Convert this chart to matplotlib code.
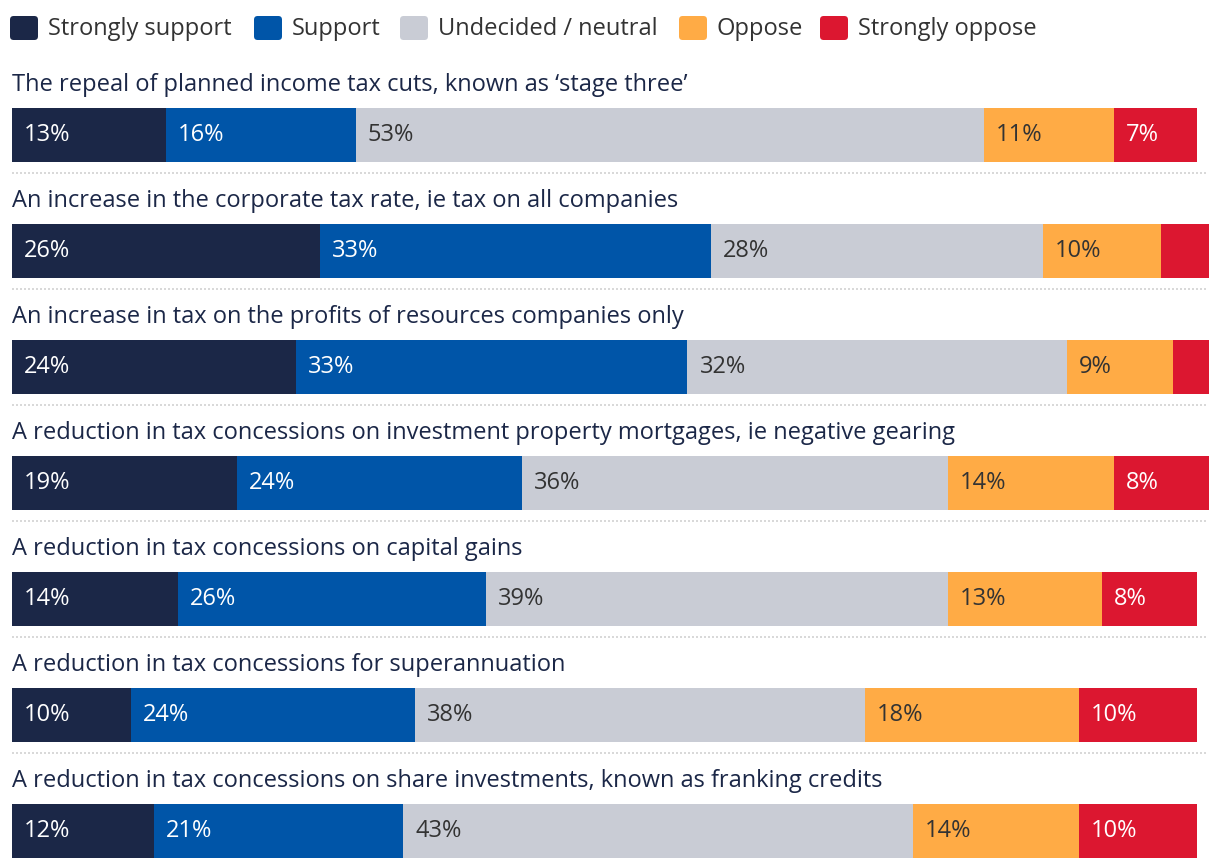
import matplotlib
matplotlib.use('Agg')
import matplotlib.pyplot as plt
from matplotlib.patches import FancyBboxPatch

plt.rcParams['font.family'] = ['Open Sans', 'DejaVu Sans']

# data
questions = [
    "The repeal of planned income tax cuts, known as \u2018stage three\u2019",
    "An increase in the corporate tax rate, ie tax on all companies",
    "An increase in tax on the profits of resources companies only",
    "A reduction in tax concessions on investment property mortgages, ie negative gearing",
    "A reduction in tax concessions on capital gains",
    "A reduction in tax concessions for superannuation",
    "A reduction in tax concessions on share investments, known as franking credits",
]
categories = ["Strongly support", "Support", "Undecided / neutral", "Oppose", "Strongly oppose"]
strongly_support = [13, 26, 24, 19, 14, 10, 12]
support = [16, 33, 33, 24, 26, 24, 21]
neutral = [53, 28, 32, 36, 39, 38, 43]
oppose = [11, 10, 9, 14, 13, 18, 14]
strongly_oppose = [7, 4, 3, 8, 8, 10, 10]
series = [strongly_support, support, neutral, oppose, strongly_oppose]

colors = ['#1b2747', '#0055a8', '#c9ccd5', '#ffab45', '#dc1730']
label_colors = ['white', 'white', '#333333', '#333333', 'white']
title_color = '#1b2747'
fs = 17

# figure in pixels
W, H = 1220, 868
fig = plt.figure(figsize=(W / 100, H / 100), dpi=100)
ax = fig.add_axes([0, 0, 1, 1])
scale = 11.85  # pixels per percentage point
ax.set_xlim(-12 / scale, (W - 12) / scale)
ax.set_ylim(H, 0)
ax.axis('off')

row_step = 116
first_bar = 135
bar_h = 54

for i, q in enumerate(questions):
    yc = first_bar + i * row_step
    ax.text(0, yc - 50, q, fontsize=fs, color=title_color, va='center', ha='left')
    left = 0
    for k, s in enumerate(series):
        v = s[i]
        ax.barh(yc, v, left=left, height=bar_h, color=colors[k], linewidth=0)
        if v >= 5:
            ax.text(left + 12 / scale, yc, f"{v}%", fontsize=fs, color=label_colors[k],
                    va='center', ha='left')
        left += v
    if i < len(questions) - 1:
        ysep = yc + bar_h / 2 + 10.5
        ax.plot([0, 1196 / scale], [ysep, ysep], color='#d9d9d9', linewidth=1.44,
                linestyle=(0, (1, 1)), solid_capstyle='butt')

# legend
leg_x = [10, 254, 400, 679, 820]
for k, name in enumerate(categories):
    x0 = leg_x[k]
    box = FancyBboxPatch((x0 / W, 1 - 40 / H), 28 / W, 24 / H,
                         boxstyle='round,pad=0,rounding_size=0.003',
                         transform=fig.transFigure, facecolor=colors[k], edgecolor='none',
                         mutation_aspect=W / H)
    fig.patches.append(box)
    fig.text((x0 + 38) / W, 1 - 29 / H, name, fontsize=fs, color='#333333',
             va='center', ha='left')

fig.savefig('out.png', dpi=100)
